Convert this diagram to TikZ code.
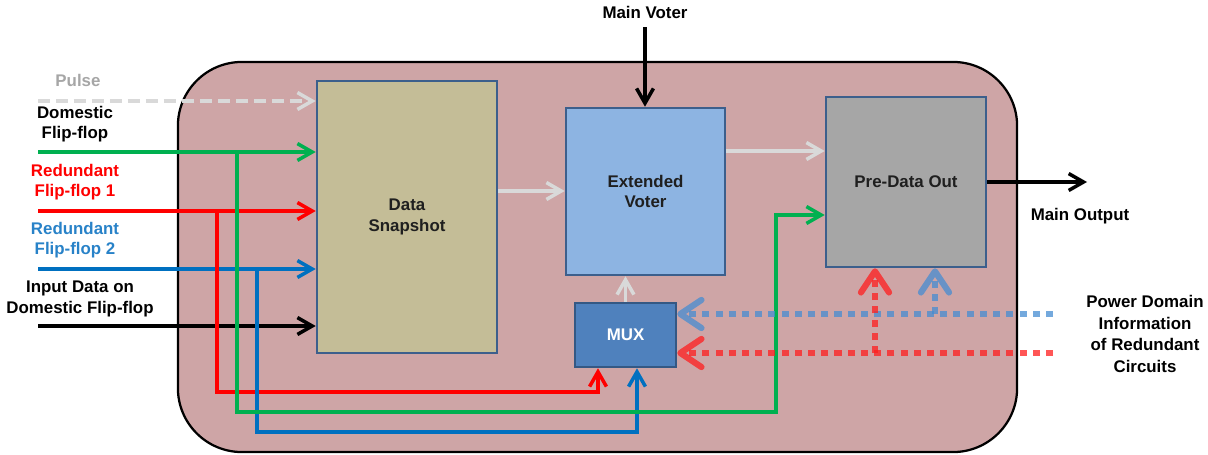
\documentclass[tikz,border=0pt]{standalone}
\usepackage{fontspec}
\setmainfont{Liberation Sans}
\usetikzlibrary{arrows.meta}

\definecolor{shellfill}{RGB}{206,165,166}
\definecolor{snapfill}{RGB}{196,189,151}
\definecolor{voterfill}{RGB}{141,180,226}
\definecolor{prefill}{RGB}{166,166,166}
\definecolor{muxfill}{RGB}{79,129,189}
\definecolor{boxedge}{RGB}{60,95,140}
\definecolor{muxedge}{RGB}{52,88,132}
\definecolor{wireG}{RGB}{0,176,80}
\definecolor{wireR}{RGB}{255,0,0}
\definecolor{wireB}{RGB}{0,112,192}
\definecolor{ltgray}{RGB}{217,217,217}
\definecolor{pulsegray}{RGB}{166,166,166}
\definecolor{lblblue}{RGB}{40,130,200}
\definecolor{pdBlue}{RGB}{70,140,210}
\definecolor{pdRed}{RGB}{255,30,30}

\newcommand\lblfont{\fontsize{12}{14.5}\selectfont\bfseries}

\tikzset{
  block/.style={draw=boxedge, line width=1.8pt, inner sep=0pt, align=center,
    font=\lblfont, text=black!88},
  lbl/.style={inner sep=0pt, align=center, font=\lblfont},
  tip/.style={-{Straight Barb[length=10.5pt,width=12pt]}},
  wire/.style={line width=2.5pt},
  pdwire/.style={line width=4.4pt, dash pattern=on 5pt off 4.4pt, opacity=0.75,
    -{Straight Barb[length=15pt,width=20pt,round]}},
}

\begin{document}
\begin{tikzpicture}[x=0.025cm, y=-0.025cm]
\useasboundingbox (0,0) rectangle (1208,454);

% enclosing cell
\node[draw, line width=1.6pt, fill=shellfill, rounded corners=1.6cm,
  minimum width=20.975cm, minimum height=9.75cm] (shell) at (597.5,257) {};

% functional blocks
\node[block, fill=snapfill, minimum width=4.5cm, minimum height=6.8cm]
  (snap) at (407,217) {Data\\Snapshot};
\node[block, fill=voterfill, minimum width=3.975cm, minimum height=4.175cm]
  (ev) at (645.5,191.5) {Extended\\Voter};
\node[block, fill=prefill, minimum width=4cm, minimum height=4.25cm]
  (pre) at (906,182) {Pre-Data Out};
\node[block, draw=muxedge, fill=muxfill, text=white, minimum width=2.525cm,
  minimum height=1.6cm] (mux) at (625.5,335) {MUX};

% text labels
\node[lbl, text=pulsegray] (lpulse) at (78,80) {Pulse};
\node[lbl] (ldom) at (75,124) {Domestic\\Flip-flop};
\node[lbl, text=wireR] (lr1) at (75,182) {Redundant\\Flip-flop 1};
\node[lbl, text=lblblue] (lr2) at (75,240) {Redundant\\Flip-flop 2};
\node[lbl] (lin) at (80,299) {Input Data on\\Domestic Flip-flop};
\node[lbl] (lmv) at (645,12) {Main Voter};
\node[lbl] (lmo) at (1080,216) {Main Output};
\node[lbl, font=\fontsize{12}{15.4}\selectfont\bfseries] (lpd) at (1145,334)
  {Power Domain\\Information\\of Redundant\\Circuits};

% free ends and bends
\coordinate (pulseS) at (38,101);
\coordinate (domS) at (38,152);
\coordinate (r1S) at (38,211);
\coordinate (r2S) at (38,269);
\coordinate (inS) at (38,326);
\coordinate (mvS) at (645,27);
\coordinate (moE) at (1087,182);
\coordinate (gA) at (237,152);
\coordinate (gB) at (237,412);
\coordinate (gC) at (776,412);
\coordinate (gD) at (776,215);
\coordinate (rA) at (217,211);
\coordinate (rB) at (217,392);
\coordinate (rC) at (598,392);
\coordinate (bA) at (257,269);
\coordinate (bB) at (257,432);
\coordinate (bC) at (637,432);
\coordinate (pdBS) at (1053,314);
\coordinate (pdRS) at (1053,353);
\coordinate (pdRV) at (875,353);
\coordinate (pdBV) at (935,314);

% pulse (dashed) and data inputs
\draw[wire, ltgray, dash pattern=on 8.5pt off 4.3pt, tip] (pulseS) -- (snap.west |- pulseS);
\draw[wire, wireR, tip] (r1S) -- (snap.west |- r1S);
\draw[wire, wireB, tip] (r2S) -- (snap.west |- r2S);
\draw[wire, black, tip] (inS) -- (snap.west |- inS);

% branches towards the MUX and the output stage
\draw[wire, wireR, tip] (rA) -- (rB) -- (rC) -- (mux.south -| rC);
\draw[wire, wireB, tip] (bA) -- (bB) -- (bC) -- (mux.south -| bC);
\draw[wire, wireG, tip] (domS) -- (snap.west |- domS);
\draw[wire, wireG, tip] (gA) -- (gB) -- (gC) -- (gD) -- (pre.west |- gD);

% block to block
\draw[wire, ltgray, tip] (snap.east |- 0,191) -- (ev.west |- 0,191);
\draw[wire, ltgray, tip] (ev.east |- 0,151) -- (pre.west |- 0,151);
\draw[wire, ltgray, tip] (mux.north) -- (ev.south -| mux.north);
\draw[wire, black, tip] (mvS) -- (ev.north -| mvS);
\draw[wire, black, tip] (pre.east) -- (moE);

% power domain information (dotted)
\draw[pdwire, pdBlue] (pdBS) -- (mux.east |- pdBS);
\draw[pdwire, pdRed] (pdRS) -- (mux.east |- pdRS);
\draw[pdwire, pdRed] (pdRV) -- (pre.south -| pdRV);
\draw[pdwire, pdBlue] (pdBV) -- (pre.south -| pdBV);
\end{tikzpicture}
\end{document}
